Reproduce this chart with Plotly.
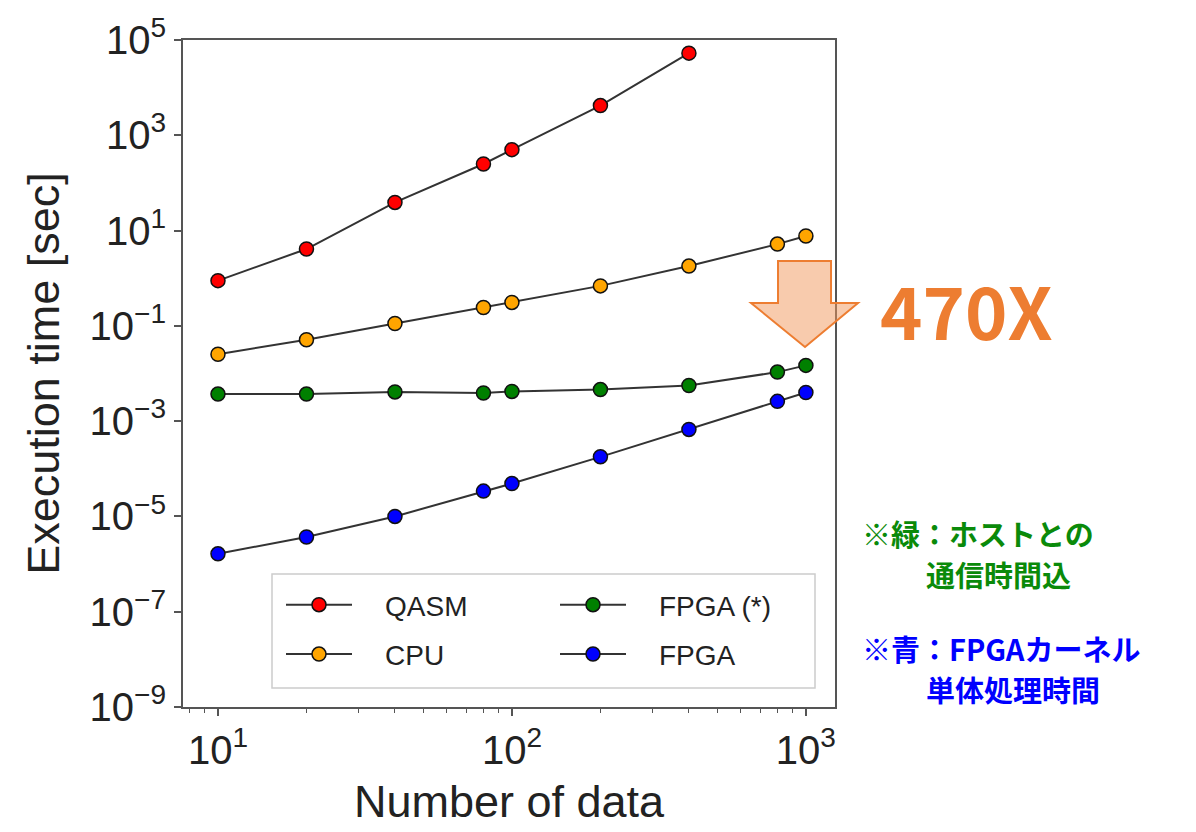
import plotly.graph_objects as go

# ---- data ----
n_data = [10, 20, 40, 80, 100, 200, 400, 800, 1000]
qasm_x = [10, 20, 40, 80, 100, 200, 400]
qasm_t = [0.89, 4.1, 39, 250, 500, 4200, 53000]
cpu_t = [0.0254, 0.051, 0.112, 0.243, 0.31, 0.69, 1.8, 5.2, 7.7]
fpga_host_t = [0.0037, 0.0037, 0.0041, 0.0039, 0.0042, 0.0046, 0.0056, 0.0107, 0.0148]
fpga_t = [1.64e-6, 3.7e-6, 1.0e-5, 3.4e-5, 4.9e-5, 1.78e-4, 6.7e-4, 2.6e-3, 4.0e-3]

series_names = ["QASM", "CPU", "FPGA (*)", "FPGA"]
series_colors = ["#FF0000", "#FFA500", "#008000", "#0000FF"]
series_legend = ["legend", "legend", "legend2", "legend2"]

y_tickvals = [1e-9, 1e-7, 1e-5, 1e-3, 1e-1, 1e1, 1e3, 1e5]
y_ticktext = ["10<sup>\u22129</sup>", "10<sup>\u22127</sup>", "10<sup>\u22125</sup>",
              "10<sup>\u22123</sup>", "10<sup>\u22121</sup>", "10<sup>1</sup>",
              "10<sup>3</sup>", "10<sup>5</sup>"]
x_tickvals = [10, 100, 1000]
x_ticktext = ["10<sup>1</sup>", "10<sup>2</sup>", "10<sup>3</sup>"]
x_minor = [8, 9, 20, 30, 40, 50, 60, 70, 80, 90, 200, 300, 400, 500, 600, 700, 800, 900]

W, H = 1196, 832
L, R, T, B = 183, 835, 40, 707  # plot area pixel box


def px(x):
    return (x - L) / (R - L)


def py(y):
    return (B - y) / (B - T)


fig = go.Figure()
xs_list = [qasm_x, n_data, n_data, n_data]
ys_list = [qasm_t, cpu_t, fpga_host_t, fpga_t]
pad = "\u2002\u2002"
for name, color, lg, xs, ys in zip(series_names, series_colors, series_legend, xs_list, ys_list):
    fig.add_trace(go.Scatter(
        x=xs, y=ys, name=pad + name, mode="lines+markers", legend=lg, legendgroup=name,
        line=dict(color="#333333", width=2),
        marker=dict(size=14, color=color, line=dict(color="#111111", width=1.5)),
    ))

axis_font = dict(family="Liberation Sans, Arial, sans-serif", size=40, color="#222222")
title_font = dict(family="Liberation Sans, Arial, sans-serif", size=45, color="#222222")
fig.update_xaxes(
    type="log", range=[0.881, 3.099], showgrid=False, zeroline=False,
    showline=True, mirror=True, linecolor="#555555", linewidth=2,
    ticks="outside", ticklen=7, tickwidth=1.5, tickcolor="#555555",
    tickvals=x_tickvals, ticktext=x_ticktext, tickfont=axis_font,
    minor=dict(ticks="outside", ticklen=4, tickwidth=1.2, tickcolor="#555555", tickvals=x_minor),
    title=dict(text="Number of data", font=title_font, standoff=14),
)
fig.update_yaxes(
    type="log", range=[-9, 5], showgrid=False, zeroline=False,
    showline=True, mirror=True, linecolor="#555555", linewidth=2,
    ticks="outside", ticklen=7, tickwidth=1.5, tickcolor="#555555",
    tickvals=y_tickvals, ticktext=y_ticktext, tickfont=axis_font,
    title=dict(text="Execution time [sec]", font=title_font, standoff=16),
)

# legend frame (decorative)
fig.add_shape(type="rect", xref="paper", yref="paper", layer="above",
              x0=px(272), x1=px(815), y0=py(688), y1=py(574),
              fillcolor="white", line=dict(color="#CCCCCC", width=1.5))

# arrow (decorative)
arrow_pts = [(778, 261), (831, 261), (831, 303), (858, 303), (805, 347), (751, 303), (778, 303)]
path = "M " + " L ".join(f"{px(a):.4f},{py(b):.4f}" for a, b in arrow_pts) + " Z"
fig.add_shape(type="path", path=path, xref="paper", yref="paper", layer="above",
              fillcolor="rgba(241,151,91,0.5)", line=dict(color="#ED7D31", width=2))

jp = "Noto Sans CJK JP"
fig.add_annotation(text="470X", xref="paper", yref="paper", x=px(966), y=py(308),
                   showarrow=False, xanchor="center", yanchor="middle",
                   font=dict(family=jp, size=72, color="#ED7D31", weight="bold"))
notes = [
    ("※緑：ホストとの", 860, 533, "#0A8A0A"),
    ("通信時間込", 924, 574, "#0A8A0A"),
    ("※青：FPGAカーネル", 860, 648, "#0000FF"),
    ("単体処理時間", 924, 689, "#0000FF"),
]
for txt, xx, yy, col in notes:
    fig.add_annotation(text=txt, xref="paper", yref="paper", x=px(xx), y=py(yy),
                       showarrow=False, xanchor="left", yanchor="middle",
                       font=dict(family=jp, size=29, color=col, weight="bold"))

leg_font = dict(family="Liberation Sans, Arial, sans-serif", size=28, color="#222222")
leg_common = dict(orientation="v", xanchor="left", yanchor="top", itemwidth=66,
                  traceorder="grouped", tracegroupgap=10,
                  bgcolor="rgba(0,0,0,0)", borderwidth=0, font=leg_font)
fig.update_layout(
    width=W, height=H,
    margin=dict(l=L, r=W - R, t=T, b=H - B, autoexpand=False),
    paper_bgcolor="white", plot_bgcolor="white",
    legend=dict(x=px(281), y=py(580), **leg_common),
    legend2=dict(x=px(555), y=py(580), **leg_common),
)

fig.write_html("out.html", config={"displayModeBar": False},
               post_script="document.body.style.margin='0px';document.body.style.overflow='hidden';")
